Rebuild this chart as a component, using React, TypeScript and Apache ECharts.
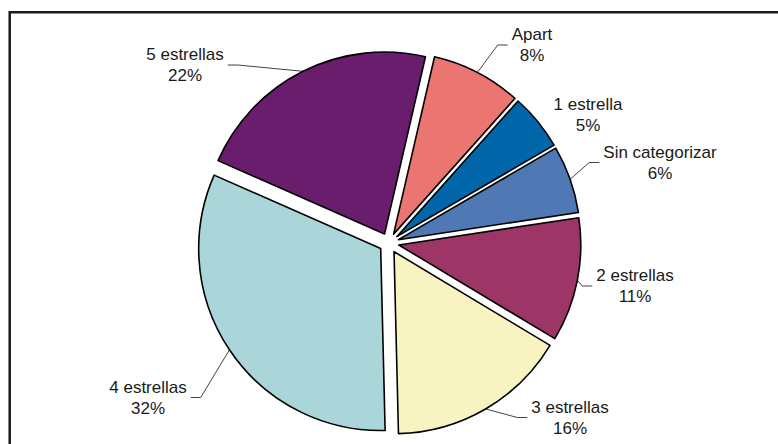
import React, { useEffect, useRef } from 'react';
import * as echarts from 'echarts';

// ---- data ----
const categories = ['Apart', '1 estrella', 'Sin categorizar', '2 estrellas', '3 estrellas', '4 estrellas', '5 estrellas'];
const shares = [8, 5, 6, 11, 16, 32, 22];
const sliceColors = ['#EA7571', '#0266AB', '#4F78B4', '#9D3667', '#F8F4C2', '#ABD6D9', '#6A1C6D'];
const showLeader = [true, false, true, true, true, true, true];

// ---- layout ----
const PIE_CENTER = [389, 243];
const PIE_RADIUS = 182;
const EXPLODE = 10;
const START_FROM_TOP = 13; // degrees clockwise from 12 o'clock
const labelCentres = [
  [532, 45],
  [588, 114.5],
  [660, 162.5],
  [635, 286],
  [570, 417.5],
  [148, 397.5],
  [185, 65],
];

export default function App() {
  const ref = useRef<HTMLDivElement>(null);
  useEffect(() => {
    if (!ref.current) return;
    const chart = echarts.init(ref.current, undefined, { renderer: 'svg' });
    const total = shares.reduce((a, b) => a + b, 0);
    let cum = 0;
    const mids = shares.map((v) => {
      const m = START_FROM_TOP + ((cum + v / 2) / total) * 360;
      cum += v;
      return (m * Math.PI) / 180;
    });

    const series = categories.map((_, i) => {
      const a = mids[i];
      const scx = PIE_CENTER[0] + EXPLODE * Math.sin(a);
      const scy = PIE_CENTER[1] - EXPLODE * Math.cos(a);
      const startPt = [scx + PIE_RADIUS * Math.sin(a), scy - PIE_RADIUS * Math.cos(a)];
      return {
        type: 'pie',
        center: [scx, scy],
        radius: PIE_RADIUS,
        startAngle: 90 - START_FROM_TOP,
        clockwise: true,
        silent: true,
        avoidLabelOverlap: false,
        emphasis: { disabled: true },
        label: {
          show: false,
          formatter: '{b}\n{c}%',
          fontFamily: '"Liberation Sans", Arial, sans-serif',
          fontSize: 17,
          lineHeight: 21,
          color: '#1a1a1a',
          align: 'center',
        },
        labelLine: { show: false, lineStyle: { color: '#444', width: 1 } },
        labelLayout: (p: any) => {
          if (p.dataIndex !== i) return {};
          const [x, y] = labelCentres[i];
          const w = p.labelRect.width;
          const res: any = { x, y, align: 'center', verticalAlign: 'middle' };
          if (showLeader[i]) {
            const right = x > PIE_CENTER[0];
            const endX = right ? x - w / 2 - 4 : x + w / 2 + 4;
            const elbowX = right ? endX - 10 : endX + 10;
            res.labelLinePoints = [startPt, [elbowX, y], [endX, y]];
          }
          return res;
        },
        data: shares.map((v, j) => ({
          name: categories[j],
          value: v,
          itemStyle:
            j === i
              ? { color: sliceColors[j], borderColor: '#000', borderWidth: 1.6 }
              : { color: 'rgba(0,0,0,0)', borderWidth: 0 },
          label: { show: j === i },
          labelLine: { show: j === i && showLeader[j] },
        })),
      };
    });

    chart.setOption({
      animation: false,
      backgroundColor: '#ffffff',
      graphic: [
        {
          type: 'rect',
          shape: { x: 9.7, y: 12.3, width: 900, height: 600 },
          style: { fill: 'none', stroke: '#1a1a1a', lineWidth: 2.5 },
          silent: true,
        },
      ],
      series,
    });
    return () => chart.dispose();
  }, []);
  return (
    <div
      ref={ref}
      style={{ position: 'fixed', left: 0, top: 0, width: 778, height: 444 }}
    />
  );
}
